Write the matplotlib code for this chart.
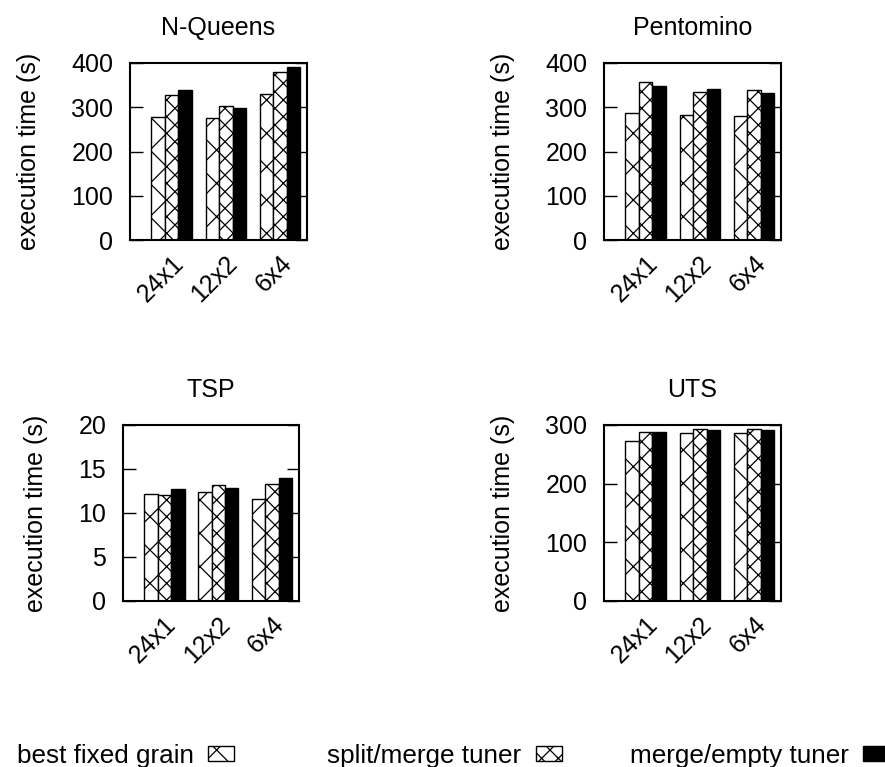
'''Execution time bar charts, 2x2 with shared legend'''
import matplotlib
matplotlib.use("Agg")
import matplotlib.pyplot as plt
from matplotlib.patches import Patch
import numpy as np

configs = ["24x1", "12x2", "6x4"]
series = ["best fixed grain", "split/merge tuner", "merge/empty tuner"]

nqueens = [[279, 275, 330],
           [328, 303, 380],
           [340, 299, 392]]
pentomino = [[287, 282, 280],
             [357, 334, 339],
             [347, 341, 333]]
tsp = [[12.2, 12.4, 11.6],
       [12.07, 13.2, 13.3],
       [12.76, 12.87, 13.93]]
uts = [[272.7, 286, 286],
       [288, 293, 293],
       [288.6, 292, 292]]

titles = ["N-Queens", "Pentomino", "TSP", "UTS"]
datasets = [nqueens, pentomino, tsp, uts]
ylims = [400, 400, 20, 300]
ysteps = [100, 100, 5, 100]

hatches = ["x", "xx", ""]
faces = ["white", "white", "black"]


def main():
    plt.rcParams['font.family'] = ['Liberation Sans', 'DejaVu Sans']
    plt.rcParams['font.size'] = 18
    plt.rcParams['hatch.linewidth'] = 0.9

    fig = plt.figure(figsize=(8.85, 7.67), dpi=100)
    W, H = 885.0, 767.0
    # axes boxes in pixels: left, top, width, height
    boxes = [(130, 63, 177, 177), (604, 63, 177, 177),
             (123, 425, 176, 176), (604, 425, 177, 176)]

    x = np.arange(len(configs))
    bw = 0.25
    for i in range(4):
        l, t, w, h = boxes[i]
        ax = fig.add_axes([l / W, (H - t - h) / H, w / W, h / H])
        data = datasets[i]
        for s in range(3):
            ax.bar(x + (s - 1) * bw, data[s], bw, color=faces[s],
                   edgecolor="black", linewidth=1.0, hatch=hatches[s])
        ax.set_xlim(-0.77, 2.5)
        ax.set_ylim(0, ylims[i])
        ax.set_yticks(np.arange(0, ylims[i] + 0.01, ysteps[i]))
        # invisible x ticks, nudged right so the rotated labels sit like gnuplot's
        ax.set_xticks(x + 0.15)
        ax.set_xticklabels(configs, rotation=45, ha="right",
                           rotation_mode="anchor", va="center")
        ax.tick_params(axis="y", direction="in", right=True, length=9,
                       width=1, pad=12)
        ax.tick_params(axis="x", length=0, pad=14)
        for sp in ax.spines.values():
            sp.set_linewidth(1.5)
        ax.set_title(titles[i], pad=20.5, fontsize=18)
        ax.set_ylabel("execution time (s)", labelpad=22)

    # legend: text followed by the sample box, gnuplot style
    ends = [234, 562, 889]
    for s in range(3):
        h = Patch(facecolor=faces[s], edgecolor="black", hatch=hatches[s],
                  linewidth=1.0)
        fig.legend([h], [series[s]], loc="center right",
                   bbox_to_anchor=(ends[s] / W, 1 - 756 / H),
                   frameon=False, markerfirst=False, borderpad=0,
                   borderaxespad=0, handlelength=1.0, handleheight=0.5,
                   handletextpad=0.55, fontsize=18.8)

    fig.savefig("out.png", dpi=100)


if __name__ == "__main__":
    main()
